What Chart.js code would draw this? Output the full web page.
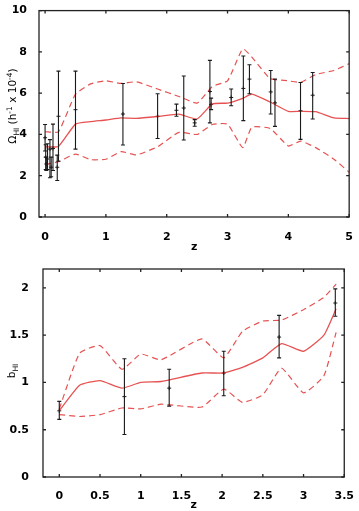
<!DOCTYPE html>
<html>
<head>
<meta charset="utf-8">
<script src="https://cdn.jsdelivr.net/npm/chart.js@4.4.1/dist/chart.umd.min.js"></script>
<style>
  body { margin: 0; background: #fff; }
  .panel { position: absolute; left: 0; }
</style>
</head>
<body>
<div class="panel" style="top:0"><canvas id="omegaChart" width="359" height="255"></canvas></div>
<div class="panel" style="top:255px"><canvas id="biasChart" width="359" height="256"></canvas></div>
<script>
// Top panel: Omega_HI model band and measurements
const omegaModelZ = [0, 0.22, 0.5, 0.75, 1.0, 1.25, 1.5, 1.85, 2.2, 2.5, 2.75, 3.0, 3.25, 3.4, 3.7, 4.0, 4.2, 4.45, 4.75, 5.0];
const omegaModelMid = [3.4, 3.42, 4.5, 4.62, 4.7, 4.8, 4.78, 4.87, 4.98, 4.75, 5.48, 5.52, 5.75, 5.95, 5.57, 5.12, 5.12, 5.1, 4.8, 4.77];
const omegaModelHigh = [4.13, 4.13, 5.95, 6.45, 6.6, 6.47, 6.55, 6.2, 5.84, 5.52, 6.32, 6.6, 8.15, 7.75, 6.71, 6.6, 6.52, 6.9, 7.1, 7.43];
const omegaModelLow = [2.54, 2.68, 3.05, 2.78, 2.8, 3.17, 3.01, 3.4, 4.1, 4.0, 4.48, 4.5, 3.36, 4.35, 4.29, 3.44, 3.68, 3.36, 2.8, 2.17];

const omegaObsZ = [0.00, 0.01, 0.02, 0.04, 0.08, 0.10, 0.13, 0.20, 0.22, 0.50, 1.28, 1.85, 2.16, 2.28, 2.46, 2.71, 2.73, 3.06, 3.26, 3.36, 3.71, 3.78, 4.20, 4.40];
const omegaObsVal = [3.84, 2.90, 2.57, 2.81, 3.29, 2.41, 3.32, 2.41, 4.88, 5.20, 4.99, 4.88, 5.17, 5.28, 4.56, 6.08, 5.45, 5.79, 6.23, 6.68, 6.06, 5.53, 5.15, 5.90];
const omegaObsLo = [3.20, 2.30, 2.25, 2.30, 1.90, 1.95, 2.25, 1.77, 2.70, 3.29, 3.49, 3.80, 4.88, 3.73, 4.40, 4.56, 5.20, 5.39, 4.67, 5.97, 4.99, 4.39, 3.76, 4.75];
const omegaObsHi = [4.48, 3.50, 2.90, 3.55, 3.75, 2.90, 4.50, 3.00, 7.07, 7.07, 6.47, 5.97, 5.47, 6.83, 4.72, 7.59, 5.76, 6.20, 7.80, 7.38, 7.10, 6.68, 6.52, 7.00];

const omegaXTicks = [0, 1, 2, 3, 4, 5];
const omegaYTicks = [0, 2, 4, 6, 8, 10];

// Bottom panel: b_HI model band and measurements
const biasModelZ = [0, 0.25, 0.5, 0.77, 1.0, 1.25, 1.75, 2.02, 2.25, 2.5, 2.73, 3.0, 3.25, 3.4];
const biasModelMid = [0.70, 0.97, 1.02, 0.94, 1.00, 1.01, 1.10, 1.10, 1.16, 1.26, 1.41, 1.33, 1.50, 1.78];
const biasModelHigh = [0.72, 1.31, 1.39, 1.14, 1.30, 1.24, 1.46, 1.26, 1.54, 1.65, 1.66, 1.77, 1.90, 2.04];
const biasModelLow = [0.66, 0.64, 0.66, 0.73, 0.72, 0.77, 0.74, 0.93, 0.79, 0.87, 1.15, 0.89, 1.07, 1.53];

const biasObsZ = [0, 0.8, 1.35, 2.02, 2.70, 3.39];
const biasObsVal = [0.70, 0.85, 0.94, 1.10, 1.48, 1.84];
const biasObsLo = [0.61, 0.45, 0.75, 0.86, 1.26, 1.70];
const biasObsHi = [0.80, 1.25, 1.14, 1.33, 1.71, 1.99];

const biasXTicks = [0, 0.5, 1, 1.5, 2, 2.5, 3, 3.5];
const biasYTicks = [0, 0.5, 1, 1.5, 2];

const RED = 'rgba(226, 52, 52, 0.85)';
const INK = '#1a1a1a';
const tickFont = { family: "'DejaVu Sans', sans-serif", size: 11, weight: 'bold' };

function pairs(xs, ys) {
    return xs.map((x, i) => ({ x: x, y: ys[i] }));
}

function modelLine(xs, ys, dashed) {
    return {
        type: 'line',
        data: pairs(xs, ys),
        borderColor: RED,
        borderWidth: dashed ? 1.2 : 1.3,
        borderDash: dashed ? [6, 4] : [],
        pointRadius: 0,
        tension: 0.15,
        fill: false
    };
}

// Error bars, frame with inward ticks and the rotated y title
const errorBarPlugin = {
    id: 'errorBars',
    afterDatasetsDraw(chart, args, opts) {
        const { ctx, scales } = chart;
        ctx.save();
        ctx.strokeStyle = INK;
        ctx.lineWidth = 1.1;
        opts.z.forEach((z, i) => {
            const x = scales.x.getPixelForValue(z);
            const yLo = scales.y.getPixelForValue(opts.lo[i]);
            const yHi = scales.y.getPixelForValue(opts.hi[i]);
            ctx.beginPath();
            ctx.moveTo(x, yLo); ctx.lineTo(x, yHi);
            ctx.moveTo(x - 2, yLo); ctx.lineTo(x + 2, yLo);
            ctx.moveTo(x - 2, yHi); ctx.lineTo(x + 2, yHi);
            ctx.stroke();
        });
        ctx.restore();
    }
};

const framePlugin = {
    id: 'frame',
    afterDraw(chart, args, opts) {
        const { ctx, chartArea: a, scales } = chart;
        ctx.save();
        ctx.strokeStyle = '#222';
        ctx.lineWidth = 1.3;
        ctx.strokeRect(a.left, a.top, a.right - a.left, a.bottom - a.top);
        ctx.beginPath();
        scales.x.ticks.forEach(t => {
            const x = scales.x.getPixelForValue(t.value);
            ctx.moveTo(x, a.bottom); ctx.lineTo(x, a.bottom - 3);
            ctx.moveTo(x, a.top); ctx.lineTo(x, a.top + 3);
        });
        scales.y.ticks.forEach(t => {
            const y = scales.y.getPixelForValue(t.value);
            ctx.moveTo(a.left, y); ctx.lineTo(a.left + 3, y);
            ctx.moveTo(a.right, y); ctx.lineTo(a.right - 3, y);
        });
        ctx.stroke();

        // y title with sub/superscripts, drawn bottom to top
        const parts = opts.title;
        const base = "'DejaVu Sans', sans-serif";
        const fontFor = p => (p.s ? '7.5px ' : '10.5px ') + base;
        let total = 0;
        parts.forEach(p => { ctx.font = fontFor(p); total += ctx.measureText(p.t).width; });
        ctx.translate(opts.x, opts.y);
        ctx.rotate(-Math.PI / 2);
        ctx.fillStyle = '#000';
        ctx.textBaseline = 'alphabetic';
        let pos = -total / 2;
        parts.forEach(p => {
            ctx.font = fontFor(p);
            const dy = p.s === 'sub' ? 3 : (p.s === 'sup' ? -4.5 : 0);
            ctx.fillText(p.t, pos, dy);
            pos += ctx.measureText(p.t).width;
        });
        ctx.restore();
    }
};

function makeChart(canvasId, cfg) {
    const datasets = [
        modelLine(cfg.modelZ, cfg.mid, false),
        modelLine(cfg.modelZ, cfg.high, true),
        modelLine(cfg.modelZ, cfg.low, true),
        {
            type: 'scatter',
            data: pairs(cfg.obsZ, cfg.obsVal),
            pointStyle: 'cross',
            pointRadius: 2,
            borderColor: INK,
            borderWidth: 1
        }
    ];

    return new Chart(document.getElementById(canvasId), {
        type: 'scatter',
        data: { datasets: datasets },
        options: {
            responsive: false,
            animation: false,
            devicePixelRatio: 1,
            layout: { padding: cfg.padding },
            plugins: {
                legend: { display: false },
                tooltip: { enabled: false },
                errorBars: { z: cfg.obsZ, lo: cfg.obsLo, hi: cfg.obsHi },
                frame: { title: cfg.yTitle, x: cfg.titleX, y: cfg.titleY }
            },
            scales: {
                x: {
                    type: 'linear',
                    min: cfg.xMin,
                    max: cfg.xMax,
                    afterBuildTicks: s => { s.ticks = cfg.xTicks.map(v => ({ value: v })); },
                    afterFit: s => { s.height = cfg.xHeight; },
                    grid: { display: false },
                    border: { display: false },
                    ticks: { font: tickFont, color: '#000', padding: cfg.xPad, maxRotation: 0, callback: v => String(v) },
                    title: {
                        display: true,
                        text: 'z',
                        color: '#000',
                        font: { family: "'DejaVu Sans', sans-serif", size: 11, weight: 'bold', lineHeight: 1 },
                        padding: { top: 0, bottom: cfg.zPad }
                    }
                },
                y: {
                    type: 'linear',
                    min: cfg.yMin,
                    max: cfg.yMax,
                    afterBuildTicks: s => { s.ticks = cfg.yTicks.map(v => ({ value: v })); },
                    afterFit: s => { s.width = cfg.yWidth; },
                    grid: { display: false },
                    border: { display: false },
                    ticks: { font: tickFont, color: '#000', padding: cfg.yPad, callback: v => String(v) }
                }
            }
        },
        plugins: [errorBarPlugin, framePlugin]
    });
}

makeChart('omegaChart', {
    modelZ: omegaModelZ, mid: omegaModelMid, high: omegaModelHigh, low: omegaModelLow,
    obsZ: omegaObsZ, obsVal: omegaObsVal, obsLo: omegaObsLo, obsHi: omegaObsHi,
    xTicks: omegaXTicks, yTicks: omegaYTicks,
    xMin: -0.1, xMax: 5, yMin: 0, yMax: 10,
    padding: { top: 8, right: 7, left: 0, bottom: 0 },
    xHeight: 38, yWidth: 39, xPad: 6, yPad: 4, zPad: 2,
    yTitle: [{ t: 'Ω' }, { t: 'HI', s: 'sub' }, { t: ' (h' }, { t: '-1', s: 'sup' }, { t: ' x 10' }, { t: '-4', s: 'sup' }, { t: ')' }],
    titleX: 16, titleY: 106
});

makeChart('biasChart', {
    modelZ: biasModelZ, mid: biasModelMid, high: biasModelHigh, low: biasModelLow,
    obsZ: biasObsZ, obsVal: biasObsVal, obsLo: biasObsLo, obsHi: biasObsHi,
    xTicks: biasXTicks, yTicks: biasYTicks,
    xMin: -0.2, xMax: 3.5, yMin: 0, yMax: 2.2,
    padding: { top: 14, right: 13, left: 0, bottom: 0 },
    xHeight: 34, yWidth: 43, xPad: 5, yPad: 6, zPad: 0,
    yTitle: [{ t: 'b' }, { t: 'HI', s: 'sub' }],
    titleX: 15, titleY: 116
});
</script>
</body>
</html>
